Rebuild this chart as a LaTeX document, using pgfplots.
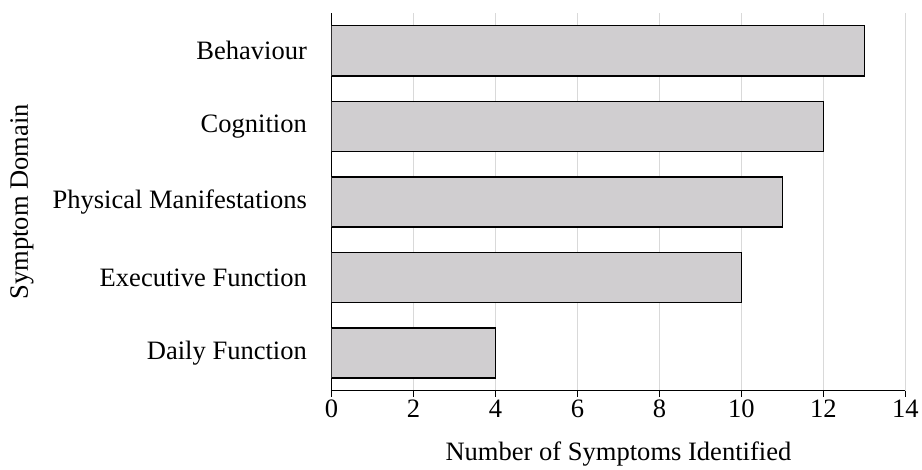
\documentclass[border={7pt 0pt 0pt 0pt}]{standalone}
\usepackage{fontspec}
\setmainfont{Liberation Serif}
\usepackage{pgfplots}
\pgfplotsset{compat=1.18}
\definecolor{barfill}{RGB}{208,206,208}
\definecolor{gridc}{RGB}{217,217,217}
\begin{document}
\begin{tikzpicture}
\begin{axis}[
  scale only axis,
  width=573pt, height=377pt,
  xbar,
  bar width=50pt,
  xmin=0, xmax=14,
  ymin=-0.5, ymax=4.5,
  xtick={0,2,...,14},
  ytick={0,1,2,3,4},
  yticklabels={Daily Function,Executive Function,Physical Manifestations,Cognition,Behaviour},
  axis x line*=bottom,
  axis y line*=left,
  x axis line style={-, line width=1.2pt},
  y axis line style={-, line width=1.2pt},
  xmajorgrids,
  major grid style={gridc, line width=1pt},
  xtick style={black, line width=1.2pt},
  xtick align=outside,
  major tick length=6pt,
  ytick style={draw=none},
  tick label style={font=\fontsize{26.5}{30}\selectfont},
  /pgf/number format/assume math mode=true,
  xlabel={Number of Symptoms Identified},
  ylabel={Symptom Domain},
  label style={font=\fontsize{26.5}{30}\selectfont},
  xlabel style={yshift=-17pt},
  ylabel style={yshift=12pt},
  yticklabel style={xshift=-15pt},
  xticklabel style={yshift=0pt},
]
\addplot[fill=barfill, draw=black, line width=1.5pt] coordinates {
  (4,0) (10,1) (11,2) (12,3) (13,4)
};
\end{axis}
\path (current axis.north) ++(0,13pt);
\end{tikzpicture}
\end{document}
